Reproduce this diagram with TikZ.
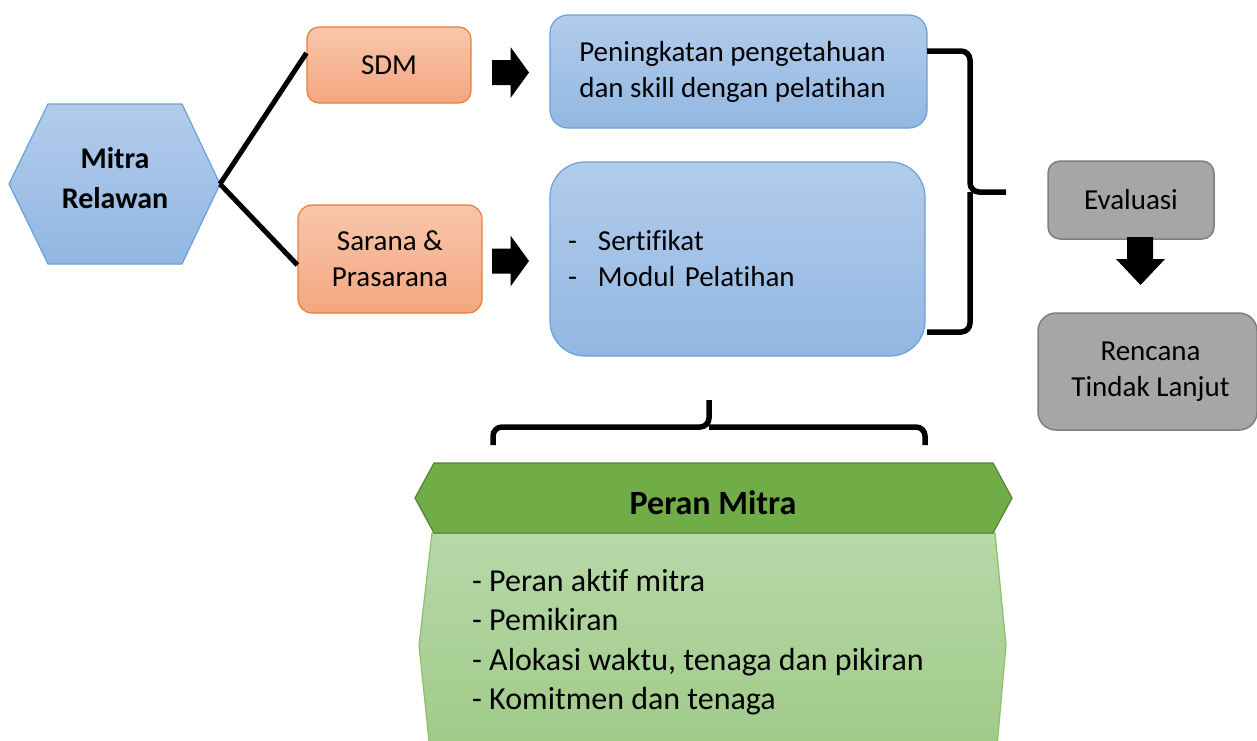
\documentclass[tikz,border=0pt]{standalone}
\usepackage{fontspec}
\setmainfont{Carlito}[Ligatures=NoCommon]
\usetikzlibrary{calc}

\definecolor{bluetop}{HTML}{B2CCEB}
\definecolor{bluebot}{HTML}{92B7E2}
\definecolor{blueline}{HTML}{6A9FD8}
\definecolor{orangetop}{HTML}{F8C6AC}
\definecolor{orangebot}{HTML}{F4A67F}
\definecolor{orangeline}{HTML}{ED7D31}
\definecolor{grayfill}{HTML}{A6A6A6}
\definecolor{grayline}{HTML}{7F7F7F}
\definecolor{greenhead}{HTML}{70AD47}
\definecolor{greenheadline}{HTML}{548235}
\definecolor{greentop}{HTML}{B7D8A9}
\definecolor{greenbot}{HTML}{9DC985}
\definecolor{greenline}{HTML}{8CC168}

\tikzset{
	blockarrow/.pic={
		\fill (-18.5,-12.5) -- (0,-12.5) -- (0,-25.5) -- (18.5,0) -- (0,25.5) -- (0,12.5) -- (-18.5,12.5) -- cycle;
	}
}

\begin{document}
\begin{tikzpicture}[x=1pt,y=-1pt,
	txt/.style={font=\fontsize{29}{36}\selectfont, align=center, inner sep=0pt},
	bluebox/.style={txt, draw=blueline, line width=1.2pt, top color=bluetop, bottom color=bluebot, rounded corners=#1},
	orangebox/.style={txt, draw=orangeline, line width=1.2pt, top color=orangetop, bottom color=orangebot, rounded corners=#1},
	graybox/.style={txt, draw=grayline, line width=1.5pt, fill=grayfill, rounded corners=#1},
	link/.style={line width=5pt},
	bracket/.style={line width=5.5pt, rounded corners=9pt}]

	\useasboundingbox (0,0) rectangle (1257,740);
	\clip (0,0) rectangle (1257,740);

	% mitra relawan
	\shade[top color=bluetop, bottom color=bluebot, draw=blueline, line width=1.2pt]
		(9,184) -- (48,104) -- (182,104) -- (220,184) -- (182,264) -- (48,264) -- cycle;
	\coordinate (hexR) at (220,184);
	\node[txt, font=\fontsize{30}{40}\selectfont\bfseries] (mitra) at (115,178) {Mitra\\Relawan};

	\node[orangebox=12pt, minimum width=164pt, minimum height=76pt] (sdm) at (389,65) {SDM};
	\node[orangebox=14pt, minimum width=184pt, minimum height=108pt] (sarana) at (390,259) {Sarana \&\\Prasarana};

	\draw[link] (hexR) -- ([yshift=12pt]sdm.west);
	\draw[link] (hexR) -- ([yshift=-6pt]sarana.west);

	\pic at (510.5,72.5) {blockarrow};
	\pic at (510.5,261) {blockarrow};

	\node[bluebox=18pt, minimum width=377pt, minimum height=113pt] (peng) at (738.5,71.5)
		{\hspace*{-12pt}Peningkatan pengetahuan\\\hspace*{-12pt}dan skill dengan pelatihan};
	\node[bluebox=35pt, minimum width=375pt, minimum height=194pt, text width=355pt, align=left] (modul) at (737.5,259)
		{\hspace*{8pt}\makebox[30pt][l]{-}Sertifikat\\\hspace*{8pt}\makebox[30pt][l]{-}Modul Pelatihan};

	% kurung kanan
	\draw[bracket] (927,51) -| (970,192) -- (1006,192);
	\draw[bracket] (927,332) -| (970,192);

	\node[graybox=12pt, minimum width=166pt, minimum height=78pt] (eval) at (1131,200) {Evaluasi};
	\node[graybox=18pt, minimum width=219pt, minimum height=117pt] (rtl) at (1147.5,371.5)
		{\hspace*{6pt}Rencana\\\hspace*{6pt}Tindak Lanjut};
	\fill (1127,237) -- (1153,237) -- (1153,259) -- (1165,259) -- (1140.5,285) -- (1116,259) -- (1127,259) -- cycle;

	% kurung bawah
	\draw[bracket] (493,445) |- (709,427) -- (709,400);
	\draw[bracket] (925,445) |- (709,427);

	% peran mitra
	\shade[top color=greentop, bottom color=greenbot, draw=greenline, line width=1.2pt]
		(432,533) -- (419,645) -- (432,770) -- (995,770) -- (1006,645) -- (995,533) -- cycle;
	\fill[greenhead, draw=greenheadline, line width=1.2pt]
		(415,498) -- (434,463) -- (993,463) -- (1012,498) -- (993,533) -- (434,533) -- cycle;
	\node[txt, font=\fontsize{34}{40}\selectfont\bfseries] (peran) at (713,503) {Peran Mitra};
	\node[txt, font=\fontsize{32}{39.5}\selectfont, align=left, anchor=west] (list) at (472,642)
		{- Peran aktif mitra\\- Pemikiran\\- Alokasi waktu, tenaga dan pikiran\\- Komitmen dan tenaga};

\end{tikzpicture}
\end{document}
